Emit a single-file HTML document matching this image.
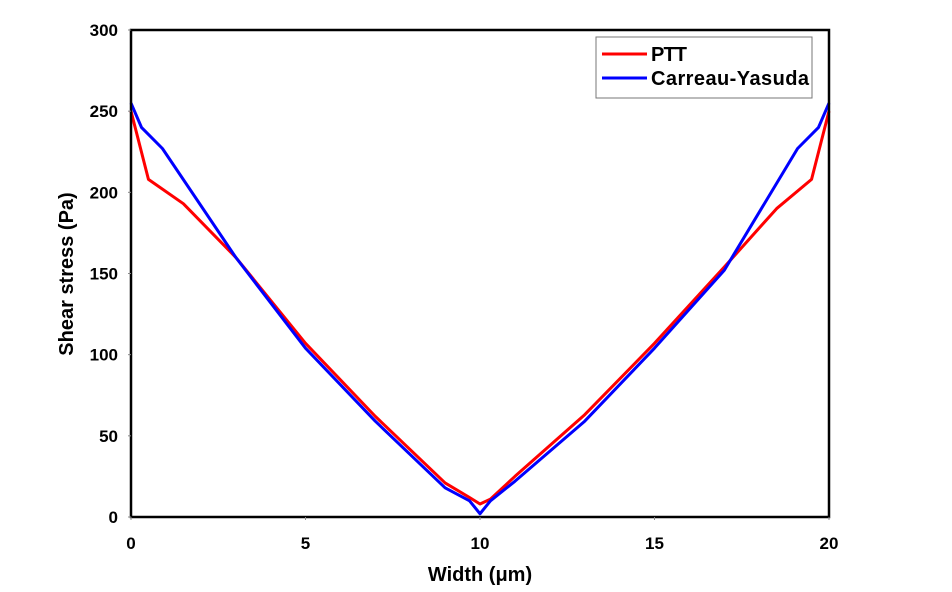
<!DOCTYPE html>
<html><head><meta charset="utf-8"><style>
body{margin:0;background:#fff;}
svg{display:block;font-family:"Liberation Sans",Arial,sans-serif;}
</style></head><body>
<svg id="chart" width="952" height="592" viewBox="0 0 952 592">
<rect x="0" y="0" width="952" height="592" fill="#fff"/>
<g id="series"></g>
<rect x="131" y="30" width="698" height="487" fill="none" stroke="#000" stroke-width="2.5"/>
<g id="ticks"></g>
<text x="73" y="274" transform="rotate(-90 73 274)" text-anchor="middle" font-size="20" font-weight="bold">Shear stress (Pa)</text>
<text x="480" y="581" text-anchor="middle" font-size="20" font-weight="bold">Width (μm)</text>
<g>
<rect x="596" y="37" width="216" height="61" fill="#fff" stroke="#777" stroke-width="1"/>
<line x1="602" y1="54" x2="647" y2="54" stroke="#ff0000" stroke-width="3"/>
<text x="651" y="61" font-size="20" font-weight="bold" textLength="36">PTT</text>
<line x1="602" y1="78" x2="647" y2="78" stroke="#0000ff" stroke-width="3"/>
<text x="651" y="85" font-size="20" font-weight="bold" textLength="158">Carreau-Yasuda</text>
</g>
</svg>
<script>
const xTicks = [0, 5, 10, 15, 20];
const yTicks = [0, 50, 100, 150, 200, 250, 300];
const pttX = [0, 0.5, 1.5, 3, 5, 7, 9, 9.7, 10, 10.3, 11, 13, 15, 17, 18.5, 19.5, 20];
const pttY = [250, 208, 193, 160, 107, 62, 21, 12, 8, 11, 25, 63, 107, 154, 190, 208, 250];
const cyX = [0, 0.3, 0.9, 3, 5, 7, 9, 9.7, 10, 10.3, 11, 13, 15, 17, 19.1, 19.7, 20];
const cyY = [255, 240, 227, 160, 104, 59, 18, 10, 2, 10, 22, 59, 104, 152, 227, 240, 255];

const X0 = 131, X1 = 829, Y0 = 517, Y1 = 30;
const sx = v => X0 + (v - 0) / 20 * (X1 - X0);
const sy = v => Y0 - v / 300 * (Y0 - Y1);
const NS = "http://www.w3.org/2000/svg";
const ticks = document.getElementById("ticks");
const series = document.getElementById("series");

xTicks.forEach(t => {
  const l = document.createElementNS(NS, "line");
  l.setAttribute("x1", sx(t)); l.setAttribute("x2", sx(t));
  l.setAttribute("y1", Y0); l.setAttribute("y2", Y0 + 3);
  l.setAttribute("stroke", "#888"); l.setAttribute("stroke-width", "1");
  
  
  ticks.appendChild(l);
  const tx = document.createElementNS(NS, "text");
  tx.setAttribute("x", sx(t)); tx.setAttribute("y", 549);
  tx.setAttribute("text-anchor", "middle"); tx.setAttribute("font-size", "17"); tx.setAttribute("font-weight", "bold");
  tx.textContent = t;
  
  
  ticks.appendChild(tx);
});
yTicks.forEach(t => {
  const l = document.createElementNS(NS, "line");
  l.setAttribute("x1", X0 - 3); l.setAttribute("x2", X0);
  l.setAttribute("y1", sy(t)); l.setAttribute("y2", sy(t));
  l.setAttribute("stroke", "#888"); l.setAttribute("stroke-width", "1");
  
  
  ticks.appendChild(l);
  const tx = document.createElementNS(NS, "text");
  tx.setAttribute("x", 118); tx.setAttribute("y", sy(t) + 6);
  tx.setAttribute("text-anchor", "end"); tx.setAttribute("font-size", "17"); tx.setAttribute("font-weight", "bold");
  tx.textContent = t;
  
  
  ticks.appendChild(tx);
});
function drawLine(xs, ys, color, name) {
  const p = document.createElementNS(NS, "polyline");
  p.setAttribute("points", xs.map((x, i) => sx(x) + "," + sy(ys[i])).join(" "));
  p.setAttribute("fill", "none"); p.setAttribute("stroke", color);
  p.setAttribute("stroke-width", "3"); p.setAttribute("stroke-linejoin", "round");
  
  
  series.appendChild(p);
}
drawLine(pttX, pttY, "#ff0000", "ptt-line");
drawLine(cyX, cyY, "#0000ff", "carreau-yasuda-line");
</script>
</body></html>
